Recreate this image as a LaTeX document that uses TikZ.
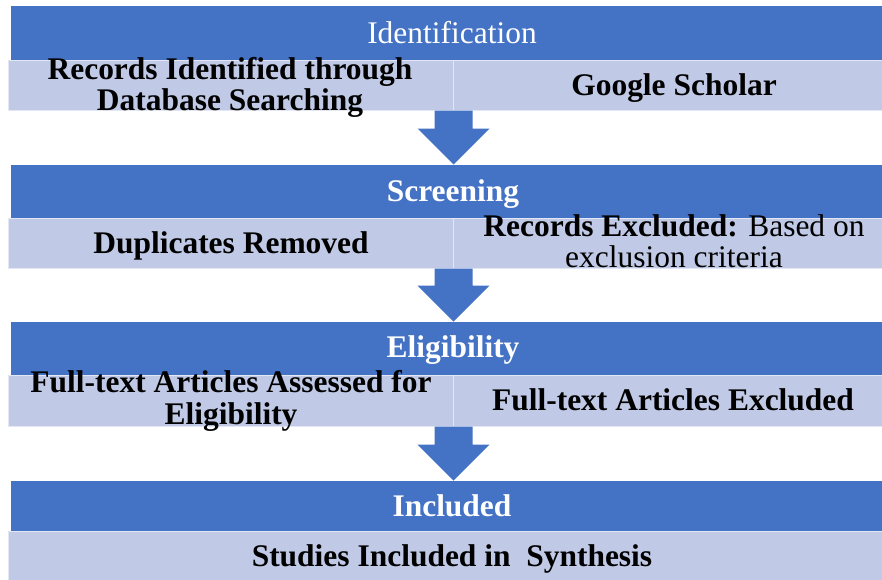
\documentclass[tikz,border=0pt]{standalone}
\usepackage{fontspec}
\setmainfont{Liberation Serif}
\usetikzlibrary{fit,calc}

\definecolor{stageblue}{RGB}{68,114,196}
\definecolor{rowfill}{RGB}{192,201,229}
\newcommand{\flowsize}{\fontsize{23.6}{23.6}\selectfont}

\tikzset{every picture/.style={line width=0.75pt}}
\tikzset{
  stagebar/.style={fill=stageblue, draw=stageblue, inner sep=0pt},
  rowbar/.style={fill=rowfill, draw=white!55!rowfill, inner sep=0pt},
  stagetext/.style={text=white, align=center, inner sep=0pt, font=\flowsize\bfseries},
  rowtext/.style={text=black, align=center, inner sep=0pt, font=\flowsize\bfseries},
  flowarrow/.style={fill=stageblue},
}

\begin{document}
\begin{tikzpicture}[x=0.75pt, y=0.75pt, yscale=-1,xscale=1]

    \useasboundingbox (0,0) rectangle (882,579);

    % bars
    \node [stagebar, fit={(11,6) (882,60)}] (idbar) {};
    \node [rowbar, fit={(8,60) (453,110)}] (dbrow) {};
    \node [rowbar, fit={(453,60) (882,110)}] (gsrow) {};

    \node [stagebar, fit={(11,165) (882,218)}] (scrbar) {};
    \node [rowbar, fit={(8,218) (453,268)}] (duprow) {};
    \node [rowbar, fit={(453,218) (882,268)}] (exrow) {};

    \node [stagebar, fit={(11,322) (882,375)}] (eligbar) {};
    \node [rowbar, fit={(8,375) (453,426)}] (ftarow) {};
    \node [rowbar, fit={(453,375) (882,426)}] (ftxrow) {};

    \node [stagebar, fit={(11,481) (882,531)}] (inclbar) {};
    \node [rowbar, fit={(8,531) (882,583)}] (synrow) {};

    % block arrows
    \coordinate (tipa) at (dbrow.south east |- scrbar.north);
    \fill [flowarrow] ($(dbrow.south east)+(-19,0)$) -- ($(dbrow.south east)+(19,0)$)
          -- ($(tipa)+(19,-36)$) -- ($(tipa)+(36,-36)$) -- (tipa)
          -- ($(tipa)+(-36,-36)$) -- ($(tipa)+(-19,-36)$) -- cycle;

    \coordinate (tipb) at (duprow.south east |- eligbar.north);
    \fill [flowarrow] ($(duprow.south east)+(-19,0)$) -- ($(duprow.south east)+(19,0)$)
          -- ($(tipb)+(19,-36)$) -- ($(tipb)+(36,-36)$) -- (tipb)
          -- ($(tipb)+(-36,-36)$) -- ($(tipb)+(-19,-36)$) -- cycle;

    \coordinate (tipc) at (ftarow.south east |- inclbar.north);
    \fill [flowarrow] ($(ftarow.south east)+(-19,0)$) -- ($(ftarow.south east)+(19,0)$)
          -- ($(tipc)+(19,-36)$) -- ($(tipc)+(36,-36)$) -- (tipc)
          -- ($(tipc)+(-36,-36)$) -- ($(tipc)+(-19,-36)$) -- cycle;

    % texts
    \node [stagetext, font=\flowsize] (idtext) at (452,32.3) {Identification};
    \node [rowtext] (dbtext) at (230,87.5) {Records Identified through\\Database Searching};
    \node [rowtext] (gstext) at (674,87.7) {Google Scholar};

    \node [stagetext] (scrtext) at (453,193.7) {Screening};
    \node [rowtext] (duptext) at (231,245.7) {Duplicates Removed};
    \node [rowtext, font=\flowsize] (extext) at (674,241) {\textbf{Records Excluded:} Based on\\exclusion criteria};

    \node [stagetext] (eligtext) at (453,349.7) {Eligibility};
    \node [rowtext] (ftatext) at (231,401) {Full-text Articles Assessed for\\Eligibility};
    \node [rowtext] (ftxtext) at (673,399.3) {Full-text Articles Excluded};

    \node [stagetext] (incltext) at (452,506) {Included};
    \node [rowtext] (syntext) at (452,558.7) {Studies Included in\ \ Synthesis};

\end{tikzpicture}
\end{document}
